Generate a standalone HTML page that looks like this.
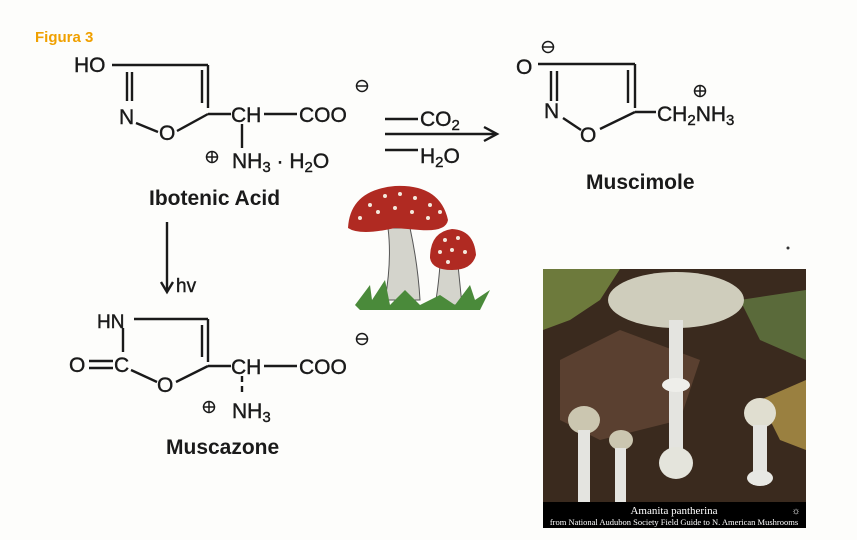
<!DOCTYPE html>
<html><head><meta charset="utf-8"><style>
html,body{margin:0;padding:0;background:#fdfdfb;}
svg{display:block;}
text{font-family:"Liberation Sans",sans-serif;fill:#1a1a1a;}
</style></head><body>
<svg width="857" height="540" viewBox="0 0 857 540" xmlns="http://www.w3.org/2000/svg">
<rect width="857" height="540" fill="#fdfdfb"/>
<text x="35" y="42" font-size="15" font-weight="bold" style="fill:#f0a000">Figura 3</text>

<g stroke="#1a1a1a" stroke-width="2.4" fill="none">
<line x1="112" y1="65" x2="208" y2="65"/>
<line x1="208" y1="65" x2="208" y2="108"/>
<line x1="202" y1="70" x2="202" y2="103"/>
<line x1="127" y1="72" x2="127" y2="101"/>
<line x1="132" y1="72" x2="132" y2="101"/>
<line x1="136" y1="123" x2="158" y2="132"/>
<line x1="177" y1="131" x2="208" y2="114"/>
<line x1="208" y1="114" x2="231" y2="114"/>
<line x1="264" y1="114" x2="297" y2="114"/>
<line x1="242" y1="124" x2="242" y2="148"/>
<circle cx="362" cy="86" r="5.5" stroke-width="1.5"/><line x1="357" y1="86" x2="367" y2="86" stroke-width="1.5"/>
<circle cx="212" cy="157" r="5.5" stroke-width="1.5"/><line x1="207" y1="157" x2="217" y2="157" stroke-width="1.5"/><line x1="212" y1="152" x2="212" y2="162" stroke-width="1.5"/>
<line x1="385" y1="119" x2="418" y2="119"/>
<line x1="385" y1="134" x2="496" y2="134"/>
<polyline points="484,127 497,134 484,141"/>
<line x1="385" y1="150" x2="418" y2="150"/>
<line x1="538" y1="64" x2="635" y2="64"/>
<line x1="635" y1="64" x2="635" y2="108"/>
<line x1="628" y1="70" x2="628" y2="103"/>
<line x1="551" y1="71" x2="551" y2="101"/>
<line x1="557" y1="71" x2="557" y2="101"/>
<line x1="563" y1="118" x2="581" y2="130"/>
<line x1="600" y1="129" x2="635" y2="112"/>
<line x1="635" y1="112" x2="656" y2="112"/>
<circle cx="548" cy="47" r="5.5" stroke-width="1.5"/><line x1="543" y1="47" x2="553" y2="47" stroke-width="1.5"/>
<circle cx="700" cy="91" r="5.5" stroke-width="1.5"/><line x1="695" y1="91" x2="705" y2="91" stroke-width="1.5"/><line x1="700" y1="86" x2="700" y2="96" stroke-width="1.5"/>
<line x1="167" y1="222" x2="167" y2="291"/>
<polyline points="161,282 167,292 173,282"/>
<line x1="134" y1="319" x2="208" y2="319"/>
<line x1="208" y1="319" x2="208" y2="362"/>
<line x1="202" y1="325" x2="202" y2="357"/>
<line x1="123" y1="328" x2="123" y2="352"/>
<line x1="89" y1="361" x2="113" y2="361"/>
<line x1="89" y1="368" x2="113" y2="368"/>
<line x1="131" y1="370" x2="157" y2="382"/>
<line x1="176" y1="382" x2="208" y2="366"/>
<line x1="208" y1="366" x2="231" y2="366"/>
<line x1="264" y1="366" x2="297" y2="366"/>
<line x1="242" y1="376" x2="242" y2="396" stroke-dasharray="6,4"/>
<circle cx="362" cy="339" r="5.5" stroke-width="1.5"/><line x1="357" y1="339" x2="367" y2="339" stroke-width="1.5"/>
<circle cx="209" cy="407" r="5.5" stroke-width="1.5"/><line x1="204" y1="407" x2="214" y2="407" stroke-width="1.5"/><line x1="209" y1="402" x2="209" y2="412" stroke-width="1.5"/>
</g>

<g font-size="21" style="stroke:#1a1a1a;stroke-width:0.4">
<text x="74" y="72">HO</text>
<text x="119" y="124">N</text>
<text x="159" y="140">O</text>
<text x="231" y="122">CH</text>
<text x="299" y="122">COO</text>
<text x="232" y="168">NH<tspan font-size="15" dy="4">3</tspan><tspan dy="-4"> · H</tspan><tspan font-size="15" dy="4">2</tspan><tspan dy="-4">O</tspan></text>
<text x="420" y="126">CO<tspan font-size="15" dy="4">2</tspan></text>
<text x="420" y="163">H<tspan font-size="15" dy="4">2</tspan><tspan dy="-4">O</tspan></text>
<text x="516" y="74">O</text>
<text x="544" y="118">N</text>
<text x="580" y="142">O</text>
<text x="657" y="121">CH<tspan font-size="15" dy="4">2</tspan><tspan dy="-4">NH</tspan><tspan font-size="15" dy="4">3</tspan></text>
<text x="176" y="292" font-size="19">hv</text>
<text x="97" y="328" font-size="19">HN</text>
<text x="69" y="372">O</text>
<text x="114" y="372">C</text>
<text x="157" y="392">O</text>
<text x="231" y="374">CH</text>
<text x="299" y="374">COO</text>
<text x="232" y="418">NH<tspan font-size="15" dy="4">3</tspan></text>
</g>
<g font-size="21" font-weight="bold">
<text x="149" y="205">Ibotenic Acid</text>
<text x="586" y="189">Muscimole</text>
<text x="166" y="454">Muscazone</text>
</g>

<g>
<path d="M388,228 Q392,260 385,300 L420,300 Q418,265 410,228 Z" fill="#d4d4cc" stroke="#555" stroke-width="1"/>
<path d="M440,265 Q438,290 435,305 L462,305 Q460,285 458,265 Z" fill="#d4d4cc" stroke="#555" stroke-width="1"/>
<path d="M348,228 Q350,190 395,186 Q440,184 448,220 Q446,232 420,230 L395,228 Q360,236 348,228 Z" fill="#b02a22"/>
<path d="M430,258 Q430,232 452,229 Q474,230 476,255 Q472,270 452,270 Q432,270 430,258 Z" fill="#b02a22"/>
<g fill="#f4e8dc">
<circle cx="370" cy="205" r="2"/><circle cx="385" cy="196" r="2"/><circle cx="400" cy="194" r="2"/><circle cx="415" cy="198" r="2"/><circle cx="430" cy="205" r="2"/><circle cx="360" cy="218" r="2"/><circle cx="378" cy="212" r="2"/><circle cx="395" cy="208" r="2"/><circle cx="412" cy="212" r="2"/><circle cx="428" cy="218" r="2"/><circle cx="440" cy="212" r="2"/>
<circle cx="445" cy="240" r="2"/><circle cx="458" cy="238" r="2"/><circle cx="440" cy="252" r="2"/><circle cx="452" cy="250" r="2"/><circle cx="465" cy="252" r="2"/><circle cx="448" cy="262" r="2"/>
</g>
<path d="M355,305 L370,285 L372,300 L385,280 L390,305 L405,290 L420,305 L440,295 L455,305 L470,285 L475,300 L490,290 L480,310 L360,310 Z" fill="#4a8a3a"/>
</g>
<circle cx="788" cy="248" r="1.5" fill="#333"/>

<rect x="543" y="269" width="263" height="259" fill="#3a2a1e"/>
<path d="M543,269 L620,269 L600,300 L570,320 L543,330 Z" fill="#6d7a3c"/>
<path d="M740,300 L806,290 L806,360 L760,340 Z" fill="#5a6a3a"/>
<path d="M760,400 L806,380 L806,450 L780,440 Z" fill="#9a8040"/>
<path d="M560,360 L620,330 L700,360 L680,420 L600,440 L560,420 Z" fill="#5a4030"/>
<ellipse cx="676" cy="300" rx="68" ry="28" fill="#cfcdbc"/>
<rect x="669" y="320" width="14" height="140" fill="#e4e4e0"/>
<ellipse cx="676" cy="385" rx="14" ry="7" fill="#eeeeea"/>
<ellipse cx="676" cy="463" rx="17" ry="16" fill="#e4e4dc"/>
<ellipse cx="584" cy="420" rx="16" ry="14" fill="#cbc6b0"/>
<rect x="578" y="430" width="12" height="72" fill="#e4e4e0"/>
<ellipse cx="621" cy="440" rx="12" ry="10" fill="#cbc6b0"/>
<rect x="615" y="448" width="11" height="54" fill="#e4e4e0"/>
<ellipse cx="760" cy="413" rx="16" ry="15" fill="#e0ded0"/>
<rect x="753" y="425" width="14" height="60" fill="#e4e4e0"/>
<ellipse cx="760" cy="478" rx="13" ry="8" fill="#e8e8e4"/>
<rect x="543" y="502" width="263" height="26" fill="#000"/>
<text x="674" y="514" font-size="11" text-anchor="middle" style="fill:#fff;font-family:'Liberation Serif',serif">Amanita pantherina</text>
<text x="674" y="525" font-size="8.5" text-anchor="middle" style="fill:#fff;font-family:'Liberation Serif',serif">from National Audubon Society Field Guide to N. American Mushrooms</text>
<text x="796" y="514" font-size="10" text-anchor="middle" style="fill:#fff">☼</text>
</svg>
</body></html>
